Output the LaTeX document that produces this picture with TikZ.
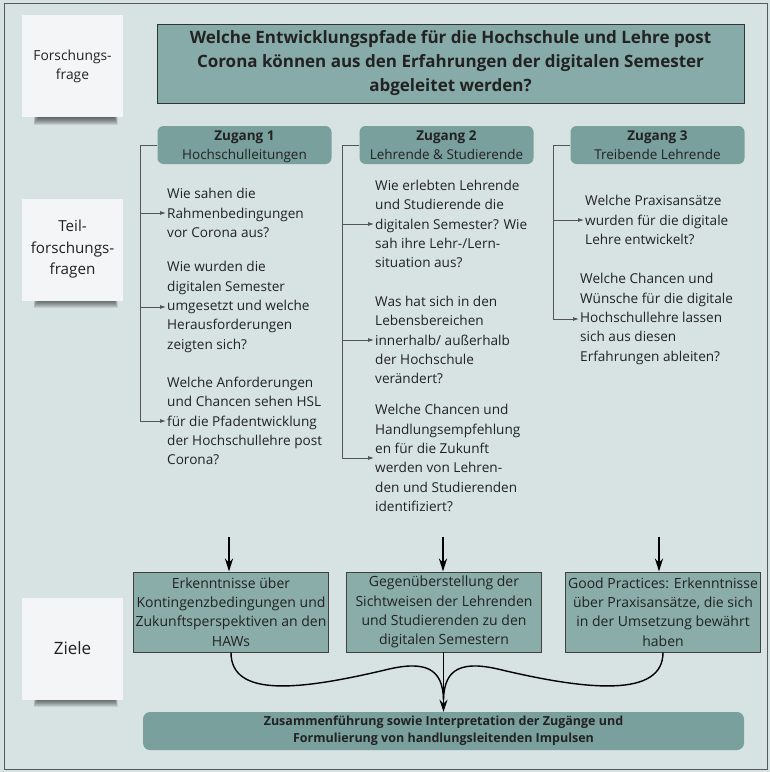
\documentclass[tikz,border=0pt]{standalone}
\usepackage{fontspec}
\setmainfont{Open Sans}
\usetikzlibrary{arrows.meta}
\definecolor{bg}{HTML}{D7E3E2}
\definecolor{qfill}{HTML}{86ABA8}
\definecolor{hfill}{HTML}{79A09D}
\definecolor{gfill}{HTML}{8AADA9}
\definecolor{txt}{HTML}{222222}
\definecolor{notefill}{HTML}{F3F5F6}
\definecolor{brc}{HTML}{555555}
\begin{document}
\begin{tikzpicture}[x=1pt,y=-1pt,
 every node/.style={text=txt},
 note/.style={fill=notefill, minimum width=101, minimum height=102, inner sep=0, align=center},
 qbox/.style={draw=black!80, line width=0.9pt, fill=qfill, minimum width=587, minimum height=79, inner sep=0, align=center, font=\fontsize{17}{24}\selectfont\bfseries},
 head/.style={fill=hfill, rounded corners=6pt, minimum width=174, minimum height=38, align=center, inner sep=0, text depth=0pt, font=\fontsize{13.5}{19}\selectfont},
 item/.style={anchor=west, align=left, inner xsep=1pt, inner ysep=0, font=\fontsize{13.6}{19.3}\selectfont},
 goal/.style={draw=black!75, line width=0.9pt, fill=gfill, minimum width=195, minimum height=80, align=center, inner sep=0, font=\fontsize{14}{19.2}\selectfont},
 final/.style={fill=hfill, rounded corners=7pt, minimum width=601, minimum height=38, align=center, inner sep=0, font=\fontsize{12.5}{17}\selectfont\bfseries},
 br/.style={draw=brc, line width=0.8pt},
 bra/.style={br, -{Latex[length=6pt,width=4pt]}},
 big/.style={line width=2.6pt, -{Stealth[length=13pt,width=8pt]}},
 curve/.style={line width=1.4pt, draw=black}
]
\useasboundingbox (0,0) rectangle (770,772);
\fill[bg] (0,0) rectangle (770,772);
\draw[line width=1.2pt, draw=black!65] (4.5,3.5) rectangle (767.5,769.5);

% note shadows
\foreach \yb in {117,300,699} {
  \foreach \k in {1,...,8}
    \fill[black, opacity=0.09] (33+\k*0.6, \yb-6) rectangle (118-\k*0.4, \yb+9-\k);
}
\node[note, font=\fontsize{13.8}{19}\selectfont] (n1) at (72.5,66) {Forschungs-\\frage};
\node[note, font=\fontsize{15.2}{21.5}\selectfont] (n2) at (72.5,249.5) {Teil-\\forschungs-\\fragen};
\node[note, font=\fontsize{17}{20}\selectfont] (n3) at (72.5,648.5) {Ziele};

\node[qbox, yshift=-2pt] (q) at (450.5,61.5) {Welche Entwicklungspfade für die Hochschule und Lehre post\\Corona können aus den Erfahrungen der digitalen Semester\\abgeleitet werden?};

\node[head] (h1) at (244.5,145) {\textbf{Zugang 1}\\Hochschulleitungen};
\node[head] (h2) at (446.5,145) {\textbf{Zugang 2}\\Lehrende \& Studierende};
\node[head] (h3) at (657.5,145) {\textbf{Zugang 3}\\Treibende Lehrende};

\node[item] (q11) at (166,213) {Wie sahen die\\Rahmenbedingungen\\vor Corona aus?};
\node[item] (q12) at (166,307) {Wie wurden die\\digitalen Semester\\umgesetzt und welche\\Herausforderungen\\zeigten sich?};
\node[item] (q13) at (166,421) {Welche Anforderungen\\und Chancen sehen HSL\\für die Pfadentwicklung\\der Hochschullehre post\\Corona?};

\node[item] (q21) at (374,224) {Wie erlebten Lehrende\\und Studierende die\\digitalen Semester? Wie\\sah ihre Lehr-/Lern-\\situation aus?};
\node[item] (q22) at (374,340) {Was hat sich in den\\Lebensbereichen\\innerhalb/ außerhalb\\der Hochschule\\verändert?};
\node[item] (q23) at (374,458) {Welche Chancen und\\Handlungsempfehlung\\en für die Zukunft\\werden von Lehren-\\den und Studierenden\\identifiziert?};

\node[item] (q31) at (584,220) {Welche Praxisansätze\\wurden für die digitale\\Lehre entwickelt?};
\node[item] (q32) at (579,319) {Welche Chancen und\\Wünsche für die digitale\\Hochschullehre lassen\\sich aus diesen\\Erfahrungen ableiten?};

% brackets
\draw[bra] (h1.west) -- ++(-17,0) |- (q13.west);
\draw[bra] ([xshift=-17pt]h1.west |- q11.west) -- (q11.west);
\draw[bra] ([xshift=-17pt]h1.west |- q12.west) -- (q12.west);
\draw[bra] (h2.west) -- ++(-17,0) |- (q23.west);
\draw[bra] ([xshift=-17pt]h2.west |- q21.west) -- (q21.west);
\draw[bra] ([xshift=-17pt]h2.west |- q22.west) -- (q22.west);
\draw[bra] (h3.west) -- ++(-17,0) |- (q32.west);
\draw[bra] ([xshift=-17pt]h3.west |- q31.west) -- (q31.west);

% goals
\node[goal] (g1) at (231,612) {Erkenntnisse über\\Kontingenzbedingungen und\\Zukunftsperspektiven an den\\HAWs};
\node[goal] (g2) at (444,612) {Gegenüberstellung der\\Sichtweisen der Lehrenden\\und Studierenden zu den\\digitalen Semestern};
\node[goal] (g3) at (663,612) {Good Practices: Erkenntnisse\\über Praxisansätze, die sich\\in der Umsetzung bewährt\\haben};

\coordinate (t1) at (229,537);
\coordinate (t2) at (443,537);
\coordinate (t3) at (659,537);
\draw[big] (t1) -- (t1 |- g1.north);
\draw[big] (t2) -- (t2 |- g2.north);
\draw[big] (t3) -- (t3 |- g3.north);

\node[final] (fin) at (443.5,731) {Zusammenführung sowie Interpretation der Zugänge und\\Formulierung von handlungsleitenden Impulsen};

\coordinate (m) at (443.5,700);
\coordinate (lp) at (385,670);
\coordinate (rp) at (502,670);
\draw[curve] (g1.south) .. controls (231,698) and (300,690) .. (lp) .. controls (425,660) and (443,668) .. (m);
\draw[curve] (g3.south) .. controls (663,698) and (587,690) .. (rp) .. controls (462,660) and (444,668) .. (m);
\draw[line width=1.8pt, -{Stealth[length=12pt,width=8pt]}] (g2.south -| fin.north) -- (fin.north);
\end{tikzpicture}
\end{document}
